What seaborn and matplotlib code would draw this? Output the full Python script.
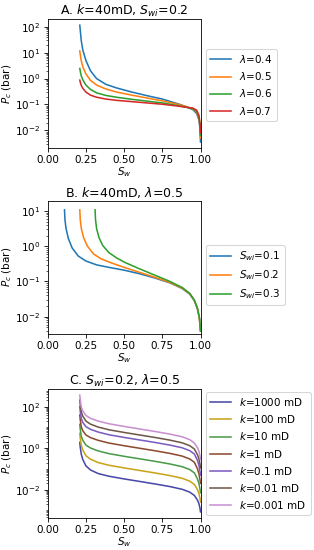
import numpy as np
import pandas as pd
import matplotlib
matplotlib.use("Agg")
import matplotlib.pyplot as plt
from matplotlib.ticker import LogLocator, NullFormatter
import seaborn as sns

# ---------------- Panel A: k=40 mD, Swi=0.2, varying lambda ----------------
sw_a = [0.21, 0.215, 0.22, 0.23, 0.25, 0.28, 0.32, 0.38, 0.45, 0.55, 0.65,
        0.75, 0.85, 0.90, 0.95, 0.975, 0.99, 0.997, 1.0]
labels_a = [r"$\lambda$=0.4", r"$\lambda$=0.5", r"$\lambda$=0.6", r"$\lambda$=0.7"]
log10_pc_a_04 = [2.06, 1.75, 1.45, 1.10, 0.70, 0.30, 0.00, -0.22, -0.36, -0.52, -0.66,
                 -0.79, -0.97, -1.07, -1.20, -1.35, -1.60, -1.95, -2.45]
log10_pc_a_05 = [1.07, 0.85, 0.68, 0.45, 0.18, -0.07, -0.25, -0.40, -0.52, -0.64, -0.75,
                 -0.86, -0.99, -1.07, -1.17, -1.30, -1.55, -1.85, -2.30]
log10_pc_a_06 = [0.39, 0.22, 0.10, -0.05, -0.25, -0.42, -0.55, -0.65, -0.72, -0.80, -0.87,
                 -0.94, -1.04, -1.10, -1.16, -1.27, -1.50, -1.80, -2.20]
log10_pc_a_07 = [-0.06, -0.18, -0.27, -0.38, -0.52, -0.64, -0.72, -0.79, -0.84, -0.89, -0.94,
                 -0.99, -1.06, -1.10, -1.14, -1.22, -1.42, -1.75, -2.10]
colors_a = ["#1f77b4", "#ff7f0e", "#2ca02c", "#d62728"]

# ---------------- Panel B: k=40 mD, lambda=0.5, varying Swi ----------------
labels_b = [r"$S_{wi}$=0.1", r"$S_{wi}$=0.2", r"$S_{wi}$=0.3"]
sw_b_01 = [0.11, 0.113, 0.12, 0.135, 0.16, 0.20, 0.25, 0.32, 0.40, 0.50, 0.60,
           0.70, 0.80, 0.88, 0.93, 0.96, 0.98, 0.993, 1.0]
log10_pc_b_01 = [1.03, 0.75, 0.50, 0.22, -0.05, -0.28, -0.42, -0.53, -0.60, -0.68, -0.78,
                 -0.90, -1.04, -1.20, -1.36, -1.55, -1.78, -2.05, -2.40]
sw_b_02 = [0.21, 0.213, 0.22, 0.235, 0.26, 0.30, 0.35, 0.42, 0.50, 0.60, 0.70,
           0.80, 0.88, 0.93, 0.96, 0.98, 0.993, 1.0]
log10_pc_b_02 = [1.03, 0.75, 0.50, 0.24, 0.00, -0.22, -0.36, -0.48, -0.60, -0.74, -0.88,
                 -1.03, -1.19, -1.35, -1.54, -1.77, -2.04, -2.40]
sw_b_03 = [0.31, 0.313, 0.32, 0.335, 0.36, 0.40, 0.45, 0.50, 0.60, 0.70,
           0.80, 0.88, 0.93, 0.96, 0.98, 0.993, 1.0]
log10_pc_b_03 = [1.03, 0.75, 0.50, 0.25, 0.02, -0.18, -0.33, -0.45, -0.64, -0.82,
                 -1.00, -1.17, -1.34, -1.53, -1.76, -2.03, -2.40]
colors_b = ["#1f77b4", "#ff7f0e", "#2ca02c"]

# ---------------- Panel C: Swi=0.2, lambda=0.5, varying k ----------------
sw_c = [0.21, 0.213, 0.22, 0.23, 0.25, 0.28, 0.33, 0.40, 0.50, 0.60, 0.70,
        0.80, 0.88, 0.93, 0.96, 0.98, 0.99, 0.997, 1.0]
labels_c = [r"$k$=1000 mD", r"$k$=100 mD", r"$k$=10 mD", r"$k$=1 mD",
            r"$k$=0.1 mD", r"$k$=0.01 mD", r"$k$=0.001 mD"]
log10_pc_c_1000 = [0.28, 0.05, -0.30, -0.55, -0.85, -1.05, -1.22, -1.35, -1.48, -1.60, -1.72,
                   -1.85, -1.98, -2.12, -2.28, -2.50, -2.68, -2.90, -3.07]
log10_pc_c_100 = [0.72, 0.49, 0.14, -0.09, -0.36, -0.53, -0.69, -0.82, -0.95, -1.07, -1.19,
                  -1.32, -1.45, -1.59, -1.75, -1.99, -2.19, -2.43, -2.60]
log10_pc_c_10 = [1.15, 0.92, 0.57, 0.38, 0.15, 0.01, -0.13, -0.26, -0.39, -0.51, -0.63,
                 -0.76, -0.89, -1.03, -1.19, -1.48, -1.71, -1.98, -2.15]
log10_pc_c_1 = [1.60, 1.37, 1.02, 0.84, 0.64, 0.51, 0.38, 0.25, 0.12, 0.00, -0.12,
                -0.25, -0.38, -0.52, -0.68, -0.99, -1.24, -1.53, -1.70]
log10_pc_c_01 = [2.00, 1.77, 1.42, 1.24, 1.04, 0.91, 0.78, 0.65, 0.52, 0.40, 0.28,
                 0.15, 0.02, -0.12, -0.28, -0.59, -0.84, -1.13, -1.30]
log10_pc_c_001 = [2.32, 2.09, 1.74, 1.54, 1.31, 1.16, 1.02, 0.89, 0.76, 0.64, 0.52,
                  0.39, 0.26, 0.12, -0.04, -0.31, -0.52, -0.78, -0.95]
log10_pc_c_0001 = [2.56, 2.33, 1.98, 1.79, 1.58, 1.44, 1.31, 1.18, 1.05, 0.93, 0.81,
                   0.68, 0.55, 0.41, 0.25, 0.03, -0.15, -0.38, -0.55]
colors_c = ["#4848a8", "#c8a418", "#4a9a48", "#8c4a30", "#7a5cc0", "#6e5848", "#c890d0"]


def frame(pairs, labels):
    parts = []
    for (sw, lg), lab in zip(pairs, labels):
        parts.append(pd.DataFrame({"Sw": sw, "Pc": np.power(10.0, lg), "series": lab}))
    return pd.concat(parts, ignore_index=True)


df_a = frame([(sw_a, log10_pc_a_04), (sw_a, log10_pc_a_05),
              (sw_a, log10_pc_a_06), (sw_a, log10_pc_a_07)], labels_a)
df_b = frame([(sw_b_01, log10_pc_b_01), (sw_b_02, log10_pc_b_02),
              (sw_b_03, log10_pc_b_03)], labels_b)
df_c = frame([(sw_c, log10_pc_c_1000), (sw_c, log10_pc_c_100), (sw_c, log10_pc_c_10),
              (sw_c, log10_pc_c_1), (sw_c, log10_pc_c_01), (sw_c, log10_pc_c_001),
              (sw_c, log10_pc_c_0001)], labels_c)

fig = plt.figure(figsize=(314 / 75, 550 / 75), dpi=75)
W, H = 314.0, 550.0
def axes_px(left, top, right, bottom):
    return fig.add_axes([left / W, 1 - bottom / H, (right - left) / W, (bottom - top) / H])

ax_a = axes_px(47.7, 19.0, 200.5, 148.0)
ax_b = axes_px(47.7, 200.7, 200.5, 334.0)
ax_c = axes_px(47.7, 389.3, 200.5, 517.7)

specs = [
    (ax_a, df_a, labels_a, colors_a, r"A. $k$=40mD, $S_{wi}$=0.2", (10 ** -2.68, 10 ** 2.30), 0.49, None),
    (ax_b, df_b, labels_b, colors_b, r"B. $k$=40mD, $\lambda$=0.5", (10 ** -2.49, 10 ** 1.29), 0.44, None),
    (ax_c, df_c, labels_c, colors_c, r"C. $S_{wi}$=0.2, $\lambda$=0.5", (10 ** -3.35, 10 ** 2.84), 0.50,
     [1e-2, 1e0, 1e2]),
]

for ax, df, labels, colors, title, ylim, ly, yt in specs:
    sns.lineplot(data=df, x="Sw", y="Pc", hue="series", hue_order=labels,
                 palette=colors, estimator=None, sort=False, linewidth=1.5, ax=ax)
    ax.set_yscale("log")
    ax.set_xlim(0, 1)
    ax.set_ylim(*ylim)
    if yt is not None:
        ax.set_yticks(yt)
        ax.yaxis.set_minor_locator(LogLocator(base=10, subs=np.arange(1, 10), numticks=100))
        ax.yaxis.set_minor_formatter(NullFormatter())
    ax.set_xticks([0.0, 0.25, 0.5, 0.75, 1.0])
    ax.set_xlabel(r"$S_w$", labelpad=0)
    ax.set_ylabel(r"$P_c$ (bar)", labelpad=1)
    ax.set_title(title, pad=4)
    sns.move_legend(ax, "center left", bbox_to_anchor=(1.035, ly), title=None,
                    frameon=True, borderaxespad=0.0)

fig.savefig("out.png", dpi=75)
